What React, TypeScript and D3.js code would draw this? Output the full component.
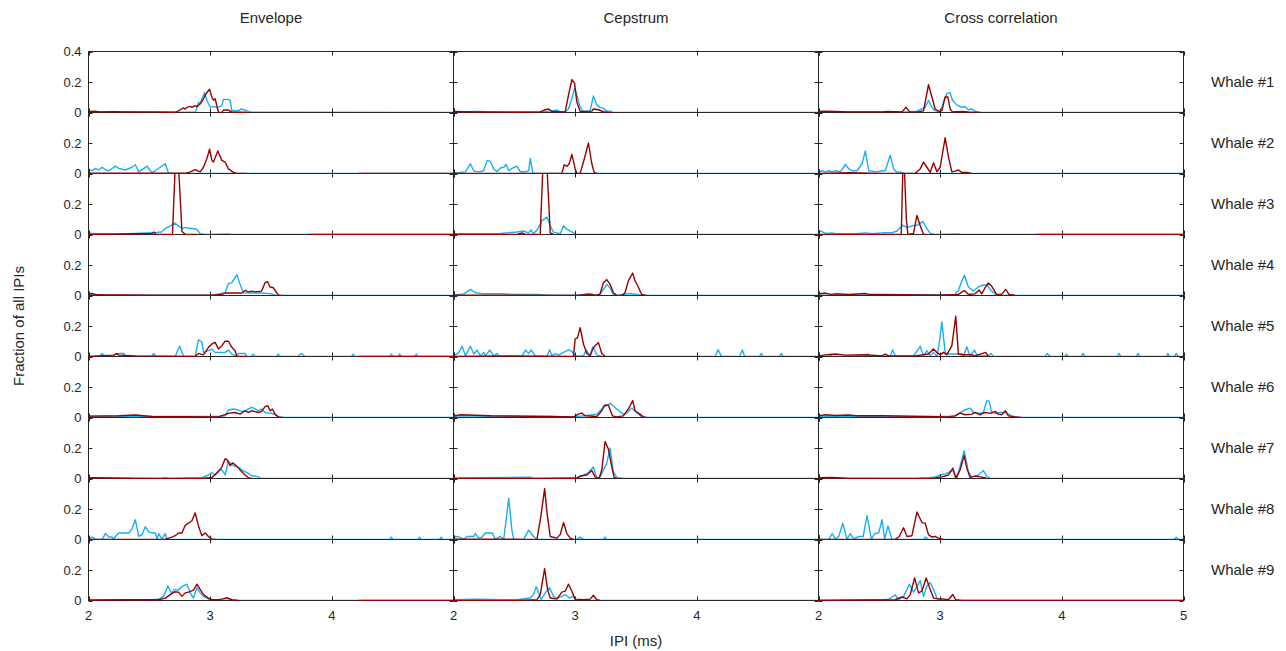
import React from 'react';
import * as d3 from 'd3';

type Pt = [number, number | null];

const methods = ['Envelope', 'Cepstrum', 'Cross correlation'];
const whales = ['Whale #1', 'Whale #2', 'Whale #3', 'Whale #4', 'Whale #5', 'Whale #6', 'Whale #7', 'Whale #8', 'Whale #9'];
const xTicks = [2, 3, 4, 5];
const yTicksTop = [0, 0.2, 0.4];
const yTicksRest = [0, 0.2];

// envelope method, one series per whale
const envelopeBlue: Pt[][] = [
  [[2,0.004],[2.2,0.003],[2.5,0.002],[2.88,0.004],[2.904,0.068],[2.918,0.057],[2.932,0.09],[2.954,0.13],[2.973,0.08],[3.0,0.034],[3.027,0.04],[3.055,0.034],[3.082,0.04],[3.096,0.045],[3.109,0.086],[3.15,0.086],[3.164,0.08],[3.178,0.011],[3.232,0.011],[3.254,0.023],[3.287,0.016],[3.314,0.007],[3.342,0.002],[5,0.001]],
  [[2,0.03],[2.03,0.018],[2.057,0.034],[2.085,0.023],[2.112,0.041],[2.139,0.025],[2.167,0.018],[2.221,0.048],[2.249,0.034],[2.303,0.023],[2.358,0.041],[2.385,0.057],[2.413,0.011],[2.44,0.025],[2.481,0.048],[2.508,0.018],[2.522,0.007],[2.549,0.018],[2.59,0.041],[2.631,0.064],[2.658,0.001],[5,0.001]],
  [[2,0.011],[2.03,0.007],[2.085,0.005],[2.2,0.002],[2.385,0.007],[2.522,0.011],[2.6,0.016],[2.631,0.039],[2.672,0.057],[2.708,0.075],[2.74,0.057],[2.768,0.039],[2.795,0.045],[2.85,0.039],[2.891,0.034],[2.918,0.005],[2.959,0.001],[3.15,0.004],[3.178,0.001],[5,0.001]],
  [[2,0.007],[2.25,0.002],[3.014,0.002],[3.068,0.011],[3.123,0.018],[3.15,0.078],[3.178,0.084],[3.219,0.136],[3.246,0.073],[3.273,0.018],[3.314,0.016],[3.423,0.016],[3.505,0.011],[3.546,0.001],[5,0.001]],
  [[2,0.001],[2.09,0.001],[2.112,0.02],[2.135,0.001],[2.2,0.001],[2.221,0.016],[2.262,0.02],[2.29,0.02],[2.303,0.001],[2.52,0.001],[2.536,0.02],[2.549,0.001],[2.713,0.001],[2.749,0.067],[2.781,0.001],[2.877,0.001],[2.904,0.11],[2.932,0.093],[2.945,0.027],[2.986,0.038],[3.014,0.049],[3.041,0.027],[3.123,0.027],[3.15,0.042],[3.178,0.016],[3.219,0.001],[3.232,0.02],[3.287,0.02],[3.3,0.001],[3.34,0.001],[3.355,0.016],[3.369,0.001],[3.545,0.001],[3.56,0.016],[3.574,0.001],[3.724,0.001],[3.751,0.02],[3.779,0.001],[4.161,0.001],[4.175,0.016],[4.188,0.001],[4.475,0.001],[4.489,0.016],[4.503,0.001],[4.544,0.001],[4.557,0.016],[4.571,0.001],[4.68,0.001],[4.694,0.016],[4.708,0.001],[5,0.001]],
  [[2,0.007],[2.932,0.007],[3.068,0.007],[3.123,0.011],[3.15,0.049],[3.191,0.056],[3.232,0.049],[3.26,0.04],[3.287,0.044],[3.314,0.056],[3.342,0.067],[3.369,0.056],[3.396,0.044],[3.423,0.056],[3.451,0.033],[3.505,0.027],[3.533,0.018],[3.56,0.004],[3.615,0.001],[5,0.001]],
  [[2,0.005],[2.6,0.001],[2.631,0.005],[2.66,0.001],[2.932,0.005],[2.986,0.023],[3.014,0.039],[3.041,0.023],[3.068,0.052],[3.096,0.057],[3.123,0.023],[3.15,0.114],[3.178,0.091],[3.205,0.08],[3.232,0.075],[3.26,0.057],[3.287,0.045],[3.314,0.034],[3.342,0.016],[3.369,0.016],[3.396,0.011],[3.41,0.001],[5,0.001]],
  [[2,0.002],[2.03,0.016],[2.057,0.001],[2.112,0.001],[2.139,0.039],[2.167,0.016],[2.194,0.016],[2.208,0.001],[2.221,0.02],[2.249,0.043],[2.331,0.043],[2.358,0.07],[2.385,0.13],[2.413,0.02],[2.44,0.032],[2.467,0.084],[2.495,0.048],[2.522,0.043],[2.549,0.043],[2.563,0.002],[2.577,0.039],[2.604,0.002],[2.631,0.039],[2.645,0.001],[4.475,0.001],[4.489,0.016],[4.503,0.001],[4.707,0.001],[4.721,0.016],[4.735,0.001],[4.885,0.001],[4.899,0.016],[4.913,0.001],[5,0.001]],
  [[2,0.005],[2.522,0.005],[2.577,0.009],[2.617,0.027],[2.653,0.095],[2.68,0.05],[2.708,0.073],[2.735,0.068],[2.768,0.091],[2.809,0.107],[2.836,0.05],[2.863,0.016],[2.891,0.084],[2.918,0.05],[2.945,0.027],[2.973,0.016],[3.0,0.001],[5,0.001]],
];

const envelopeRed: Pt[][] = [
  [[2,0.006],[2.05,0.008],[2.1,0.004],[2.2,0.006],[2.3,0.003],[2.5,0.004],[2.72,0.002],[2.754,0.018],[2.781,0.03],[2.795,0.022],[2.809,0.034],[2.836,0.04],[2.85,0.034],[2.877,0.045],[2.891,0.038],[2.918,0.057],[2.945,0.09],[2.967,0.125],[2.995,0.152],[3.014,0.1],[3.027,0.08],[3.041,0.09],[3.055,0.045],[3.068,0.001],[3.096,0.001],[3.109,0.016],[3.15,0.016],[3.178,0.002],[3.3,0.002]],
  [[2,0.002],[2.8,0.002],[2.836,0.011],[2.877,0.025],[2.918,0.011],[2.945,0.041],[2.973,0.098],[2.995,0.159],[3.014,0.086],[3.027,0.075],[3.063,0.148],[3.096,0.086],[3.123,0.075],[3.15,0.03],[3.191,0.007],[3.219,0.001],[3.3,0.001],[3.35,null],[4.22,0.001],[5,0.001]],
  [[2,0.001],[2.522,0.007],[2.536,0.016],[2.555,0.001],[2.69,0.001],[2.713,0.45],[2.74,0.45],[2.768,0.02],[2.795,0.001],[2.9,0.001],[2.95,null],[3.81,0.001],[5,0.001]],
  [[2,0.011],[2.03,0.013],[2.057,0.007],[2.1,0.005],[2.5,0.002],[3.014,0.002],[3.096,0.007],[3.123,0.016],[3.26,0.016],[3.287,0.033],[3.314,0.024],[3.342,0.029],[3.369,0.024],[3.423,0.029],[3.451,0.084],[3.473,0.09],[3.492,0.056],[3.519,0.051],[3.546,0.018],[3.566,0.001],[3.6,0.001]],
  [[2,0.001],[2.208,0.009],[2.235,0.02],[2.249,0.009],[2.385,0.004],[2.877,0.001],[2.904,0.02],[2.945,0.011],[2.986,0.06],[3.014,0.082],[3.041,0.093],[3.068,0.049],[3.096,0.071],[3.123,0.1],[3.15,0.1],[3.178,0.06],[3.205,0.038],[3.219,0.001],[3.3,0.001],[3.35,null],[4.216,0.001],[5,0.001]],
  [[2,0.009],[2.249,0.011],[2.385,0.016],[2.522,0.007],[3.068,0.004],[3.15,0.027],[3.205,0.033],[3.246,0.022],[3.287,0.044],[3.314,0.033],[3.342,0.044],[3.396,0.033],[3.423,0.04],[3.451,0.071],[3.473,0.078],[3.492,0.044],[3.511,0.056],[3.533,0.022],[3.56,0.004],[3.587,0.001]],
  [[2,0.005],[2.385,0.001],[2.932,0.001],[3.014,0.007],[3.068,0.045],[3.096,0.075],[3.123,0.13],[3.137,0.125],[3.164,0.084],[3.183,0.102],[3.205,0.091],[3.232,0.068],[3.26,0.045],[3.287,0.023],[3.314,0.005],[3.342,0.001]],
  [[2,0.001],[2.631,0.002],[2.686,0.016],[2.713,0.025],[2.74,0.043],[2.768,0.043],[2.795,0.093],[2.822,0.107],[2.85,0.123],[2.877,0.175],[2.904,0.089],[2.932,0.025],[2.959,0.043],[2.986,0.02],[3.014,0.001],[3.05,0.001]],
  [[2,0.002],[2.331,0.005],[2.577,0.005],[2.631,0.016],[2.672,0.039],[2.708,0.057],[2.74,0.055],[2.768,0.027],[2.795,0.05],[2.822,0.055],[2.863,0.068],[2.891,0.107],[2.918,0.073],[2.945,0.039],[2.986,0.016],[3.014,0.005],[3.068,0.005],[3.096,0.009],[3.137,0.018],[3.178,0.005],[3.232,0.001],[3.3,null],[4.22,0.001],[5,0.001]],
];

// cepstrum method
const cepstrumBlue: Pt[][] = [
  [[2,0.004],[2.194,0.007],[2.385,0.004],[2.74,0.004],[2.795,0.009],[2.85,0.016],[2.877,0.004],[2.918,0.004],[2.945,0.023],[2.973,0.091],[2.995,0.16],[3.014,0.114],[3.041,0.034],[3.068,0.007],[3.123,0.011],[3.15,0.109],[3.178,0.05],[3.205,0.034],[3.232,0.027],[3.26,0.011],[3.287,0.009],[3.314,0.001],[5,0.001]],
  [[2,0.005],[2.057,0.007],[2.098,0.011],[2.139,0.064],[2.167,0.016],[2.208,0.011],[2.249,0.018],[2.276,0.086],[2.303,0.08],[2.331,0.03],[2.358,0.011],[2.385,0.036],[2.413,0.041],[2.432,0.059],[2.454,0.018],[2.481,0.034],[2.522,0.048],[2.549,0.011],[2.59,0.011],[2.617,0.018],[2.631,0.098],[2.653,0.001],[5,0.001]],
  [[2,0.005],[2.249,0.005],[2.385,0.007],[2.522,0.016],[2.577,0.023],[2.617,0.011],[2.637,0.03],[2.658,0.005],[2.691,0.034],[2.727,0.091],[2.768,0.114],[2.795,0.057],[2.822,0.016],[2.877,0.005],[2.904,0.057],[2.932,0.034],[2.959,0.023],[2.986,0.011],[3.014,0.001],[5,0.001]],
  [[2,0.004],[2.085,0.011],[2.139,0.04],[2.18,0.018],[2.249,0.011],[2.385,0.011],[2.522,0.007],[2.686,0.007],[2.795,0.002],[3.014,0.002],[3.068,0.007],[3.123,0.013],[3.164,0.002],[3.205,0.007],[3.26,0.073],[3.287,0.051],[3.314,0.007],[3.342,0.001],[3.396,0.007],[3.451,0.013],[3.505,0.007],[3.546,0.001],[5,0.001]],
  [[2,0.001],[2.044,0.027],[2.071,0.067],[2.098,0.004],[2.139,0.067],[2.167,0.016],[2.194,0.042],[2.221,0.004],[2.249,0.027],[2.262,0.004],[2.298,0.042],[2.331,0.004],[2.358,0.02],[2.372,0.001],[2.563,0.001],[2.59,0.042],[2.617,0.02],[2.639,0.044],[2.672,0.004],[2.768,0.001],[2.79,0.044],[2.809,0.004],[2.836,0.02],[2.863,0.009],[2.904,0.027],[2.945,0.044],[2.973,0.033],[3.0,0.004],[3.068,0.004],[3.09,0.042],[3.123,0.009],[3.145,0.064],[3.178,0.011],[3.219,0.001],[4.15,0.001],[4.175,0.044],[4.202,0.001],[4.352,0.001],[4.374,0.042],[4.393,0.001],[4.515,0.001],[4.53,0.02],[4.544,0.001],[4.68,0.001],[4.694,0.02],[4.708,0.001],[5,0.001]],
  [[2,0.009],[2.112,0.011],[2.385,0.007],[2.795,0.007],[2.986,0.004],[3.068,0.011],[3.178,0.022],[3.232,0.067],[3.287,0.093],[3.342,0.056],[3.396,0.022],[3.423,0.027],[3.464,0.062],[3.505,0.033],[3.546,0.004],[3.587,0.001],[5,0.001]],
  [[2,0.002],[2.139,0.005],[2.631,0.009],[2.658,0.001],[3.014,0.007],[3.055,0.016],[3.109,0.039],[3.15,0.075],[3.178,0.001],[3.205,0.011],[3.26,0.102],[3.287,0.198],[3.314,0.045],[3.342,0.007],[3.396,0.001],[5,0.001]],
  [[2,0.016],[2.03,0.02],[2.085,0.002],[2.112,0.02],[2.167,0.02],[2.18,0.039],[2.208,0.009],[2.235,0.016],[2.262,0.043],[2.317,0.043],[2.344,0.002],[2.385,0.02],[2.413,0.002],[2.454,0.27],[2.481,0.055],[2.495,0.001],[2.577,0.001],[2.617,0.061],[2.658,0.02],[2.686,0.002],[3.014,0.001],[3.041,0.016],[3.068,0.001],[3.232,0.001],[3.246,0.016],[3.26,0.001],[5,0.001]],
  [[2,0.005],[2.194,0.009],[2.385,0.005],[2.522,0.005],[2.631,0.016],[2.658,0.039],[2.68,0.091],[2.7,0.05],[2.719,0.005],[2.754,0.05],[2.79,0.084],[2.822,0.027],[2.85,0.016],[2.891,0.027],[2.918,0.039],[2.954,0.016],[2.981,0.027],[3.008,0.001],[5,0.001]],
];

const cepstrumRed: Pt[][] = [
  [[2,0.007],[2.2,0.003],[2.522,0.002],[2.713,0.004],[2.754,0.018],[2.781,0.023],[2.809,0.007],[2.918,0.004],[2.945,0.114],[2.973,0.216],[2.995,0.193],[3.014,0.068],[3.041,0.007],[3.137,0.009],[3.15,0.023],[3.191,0.018],[3.232,0.005],[3.287,0.001],[3.3,0.001]],
  [[2,0.001],[2.85,0.001],[2.891,0.002],[2.91,0.057],[2.932,0.048],[2.951,0.064],[2.973,0.125],[3.0,0.03],[3.014,0.001],[3.041,0.001],[3.068,0.075],[3.109,0.2],[3.137,0.064],[3.156,0.007],[3.178,0.001]],
  [[2,0.001],[2.522,0.001],[2.563,0.011],[2.59,0.001],[2.713,0.001],[2.735,0.45],[2.768,0.45],[2.795,0.011],[2.822,0.001]],
  [[2,0.002],[3.014,0.001],[3.096,0.007],[3.178,0.002],[3.205,0.011],[3.232,0.084],[3.26,0.104],[3.287,0.073],[3.314,0.018],[3.342,0.001],[3.383,0.001],[3.41,0.018],[3.437,0.096],[3.473,0.147],[3.492,0.096],[3.519,0.056],[3.546,0.007],[3.587,0.001]],
  [[2,0.001],[2.44,0.004],[2.986,0.001],[3.0,0.116],[3.019,0.122],[3.041,0.189],[3.068,0.082],[3.096,0.02],[3.123,0.001],[3.145,0.049],[3.164,0.071],[3.191,0.091],[3.219,0.02],[3.246,0.001]],
  [[2,0.009],[2.057,0.018],[2.112,0.016],[2.303,0.011],[2.795,0.007],[2.986,0.004],[3.027,0.022],[3.055,0.029],[3.082,0.011],[3.178,0.007],[3.219,0.044],[3.24,0.08],[3.273,0.08],[3.306,0.011],[3.342,0.004],[3.396,0.011],[3.437,0.056],[3.473,0.111],[3.492,0.044],[3.533,0.022],[3.56,0.004],[3.587,0.001]],
  [[2,0.001],[3.014,0.001],[3.041,0.016],[3.096,0.023],[3.137,0.052],[3.164,0.011],[3.197,0.001],[3.219,0.057],[3.246,0.243],[3.273,0.193],[3.3,0.08],[3.32,0.007],[3.342,0.001]],
  [[2,0.002],[2.6,0.001],[2.686,0.001],[2.719,0.157],[2.749,0.334],[2.768,0.18],[2.795,0.02],[2.85,0.009],[2.877,0.032],[2.904,0.111],[2.932,0.039],[2.959,0.009],[2.986,0.001]],
  [[2,0.001],[2.522,0.001],[2.686,0.005],[2.713,0.039],[2.749,0.209],[2.773,0.073],[2.795,0.016],[2.85,0.009],[2.891,0.055],[2.918,0.061],[2.945,0.107],[2.973,0.061],[3.0,0.009],[3.068,0.005],[3.123,0.009],[3.15,0.034],[3.178,0.005],[3.205,0.001]],
];

// cross correlation method
const crossBlue: Pt[][] = [
  [[2,0.004],[2.249,0.004],[2.795,0.004],[2.85,0.023],[2.877,0.034],[2.904,0.08],[2.932,0.034],[2.959,0.011],[3.0,0.004],[3.027,0.068],[3.055,0.125],[3.082,0.13],[3.101,0.08],[3.137,0.05],[3.178,0.034],[3.205,0.039],[3.232,0.018],[3.26,0.023],[3.287,0.009],[3.342,0.001],[5,0.001]],
  [[2,0.011],[2.03,0.018],[2.057,0.011],[2.085,0.018],[2.112,0.011],[2.139,0.018],[2.18,0.011],[2.221,0.059],[2.249,0.03],[2.276,0.018],[2.317,0.018],[2.358,0.064],[2.385,0.148],[2.413,0.018],[2.481,0.011],[2.522,0.018],[2.549,0.018],[2.59,0.12],[2.617,0.03],[2.645,0.007],[2.672,0.011],[2.713,0.001],[5,0.001]],
  [[2,0.011],[2.016,0.023],[2.057,0.007],[2.112,0.011],[2.139,0.005],[2.303,0.005],[2.385,0.011],[2.44,0.005],[2.522,0.011],[2.604,0.011],[2.645,0.023],[2.691,0.061],[2.727,0.045],[2.768,0.057],[2.809,0.061],[2.858,0.084],[2.891,0.039],[2.918,0.007],[2.959,0.001],[3.15,0.004],[3.178,0.001],[5,0.001]],
  [[2,0.002],[2.249,0.002],[3.123,0.007],[3.15,0.033],[3.178,0.096],[3.2,0.133],[3.232,0.056],[3.273,0.029],[3.314,0.056],[3.355,0.069],[3.383,0.069],[3.423,0.029],[3.464,0.001],[5,0.001]],
  [[2,0.001],[2.085,0.001],[2.098,0.016],[2.112,0.001],[2.39,0.001],[2.407,0.016],[2.426,0.001],[2.59,0.004],[2.609,0.044],[2.631,0.001],[2.781,0.004],[2.836,0.067],[2.863,0.004],[2.891,0.038],[2.918,0.004],[2.945,0.027],[2.973,0.001],[2.992,0.082],[3.014,0.227],[3.041,0.027],[3.068,0.016],[3.15,0.016],[3.178,0.02],[3.191,0.001],[3.219,0.064],[3.246,0.004],[3.281,0.042],[3.306,0.004],[3.396,0.004],[3.418,0.02],[3.438,0.001],[3.861,0.001],[3.88,0.02],[3.902,0.001],[4.025,0.001],[4.038,0.016],[4.052,0.001],[4.161,0.001],[4.175,0.02],[4.188,0.001],[4.456,0.001],[4.47,0.02],[4.484,0.001],[4.612,0.001],[4.626,0.02],[4.639,0.001],[4.858,0.001],[4.872,0.02],[4.885,0.001],[4.926,0.001],[4.94,0.02],[4.954,0.001],[5,0.001]],
  [[2,0.007],[2.522,0.007],[3.068,0.007],[3.123,0.011],[3.156,0.027],[3.2,0.049],[3.246,0.062],[3.273,0.033],[3.314,0.027],[3.355,0.033],[3.383,0.111],[3.402,0.107],[3.423,0.033],[3.451,0.027],[3.492,0.033],[3.533,0.033],[3.587,0.011],[3.642,0.001],[5,0.001]],
  [[2,0.002],[2.795,0.001],[2.904,0.005],[2.959,0.011],[3.0,0.023],[3.041,0.03],[3.082,0.045],[3.109,0.052],[3.137,0.001],[3.164,0.08],[3.197,0.182],[3.232,0.045],[3.26,0.011],[3.287,0.016],[3.314,0.023],[3.355,0.052],[3.383,0.016],[3.41,0.001],[5,0.001]],
  [[2,0.001],[2.085,0.001],[2.112,0.039],[2.14,0.001],[2.167,0.02],[2.199,0.107],[2.235,0.002],[2.262,0.039],[2.29,0.002],[2.331,0.02],[2.367,0.02],[2.399,0.157],[2.434,0.002],[2.462,0.039],[2.495,0.043],[2.522,0.13],[2.544,0.002],[2.571,0.089],[2.604,0.001],[2.863,0.001],[2.877,0.016],[2.904,0.001],[4.926,0.001],[4.94,0.016],[4.954,0.001],[5,0.001]],
  [[2,0.002],[2.522,0.005],[2.577,0.009],[2.631,0.036],[2.658,0.005],[2.7,0.027],[2.746,0.107],[2.781,0.055],[2.809,0.091],[2.836,0.13],[2.863,0.027],[2.891,0.095],[2.918,0.118],[2.945,0.073],[2.973,0.016],[3.014,0.001],[5,0.001]],
];

const crossRed: Pt[][] = [
  [[2,0.007],[2.057,0.009],[2.139,0.007],[2.249,0.004],[2.522,0.004],[2.563,0.007],[2.686,0.004],[2.721,0.034],[2.749,0.004],[2.822,0.004],[2.863,0.011],[2.904,0.182],[2.932,0.102],[2.959,0.023],[2.992,0.007],[3.014,0.011],[3.041,0.102],[3.063,0.102],[3.082,0.023],[3.101,0.004],[3.178,0.007],[3.232,0.004],[3.3,0.002]],
  [[2,0.001],[2.249,0.005],[2.522,0.001],[2.795,0.001],[2.836,0.03],[2.863,0.075],[2.891,0.041],[2.918,0.007],[2.945,0.07],[2.973,0.011],[3.0,0.041],[3.041,0.234],[3.068,0.109],[3.096,0.011],[3.123,0.016],[3.15,0.023],[3.178,0.007],[3.219,0.007],[3.26,0.001]],
  [[2,0.001],[2.68,0.001],[2.694,0.45],[2.705,0.45],[2.722,0.1],[2.735,0.001],[2.781,0.007],[2.809,0.125],[2.836,0.057],[2.863,0.001],[2.891,0.001],[2.95,null],[3.79,0.001],[5,0.001]],
  [[2,0.011],[2.057,0.016],[2.098,0.007],[2.139,0.011],[2.249,0.007],[2.385,0.013],[2.413,0.007],[2.522,0.007],[3.014,0.002],[3.15,0.007],[3.2,0.033],[3.232,0.007],[3.287,0.011],[3.32,0.036],[3.342,0.011],[3.369,0.051],[3.396,0.082],[3.423,0.062],[3.464,0.007],[3.505,0.007],[3.538,0.04],[3.566,0.007],[3.615,0.002]],
  [[2,0.004],[2.057,0.011],[2.139,0.016],[2.221,0.009],[2.385,0.011],[2.522,0.004],[2.549,0.016],[2.577,0.004],[2.795,0.004],[2.904,0.016],[2.945,0.049],[2.973,0.027],[3.0,0.011],[3.027,0.027],[3.055,0.011],[3.096,0.071],[3.128,0.264],[3.15,0.016],[3.178,0.011],[3.26,0.011],[3.287,0.004],[3.374,0.027],[3.396,0.001]],
  [[2,0.011],[2.057,0.018],[2.139,0.013],[2.249,0.016],[2.331,0.011],[2.522,0.011],[3.068,0.004],[3.123,0.011],[3.164,0.029],[3.205,0.018],[3.26,0.022],[3.287,0.033],[3.328,0.018],[3.369,0.033],[3.41,0.027],[3.451,0.04],[3.478,0.022],[3.505,0.018],[3.538,0.044],[3.56,0.011],[3.615,0.004],[3.669,0.001]],
  [[2,0.005],[2.112,0.007],[2.249,0.001],[2.932,0.001],[3.014,0.011],[3.068,0.023],[3.104,0.068],[3.128,0.001],[3.164,0.057],[3.197,0.152],[3.219,0.068],[3.246,0.007],[3.287,0.016],[3.328,0.011],[3.355,0.007],[3.383,0.001]],
  [[2,0.001],[2.631,0.001],[2.664,0.02],[2.699,0.077],[2.727,0.02],[2.768,0.025],[2.809,0.18],[2.85,0.111],[2.877,0.107],[2.904,0.032],[2.932,0.016],[2.959,0.02],[2.986,0.009],[3.027,0.001]],
  [[2,0.001],[2.631,0.005],[2.686,0.023],[2.727,0.011],[2.754,0.039],[2.79,0.148],[2.822,0.05],[2.85,0.061],[2.885,0.148],[2.918,0.073],[2.945,0.016],[2.986,0.009],[3.014,0.011],[3.068,0.005],[3.104,0.039],[3.128,0.005],[3.178,0.001],[5,0.001]],
];

const blueByMethod = [envelopeBlue, cepstrumBlue, crossBlue];
const redByMethod = [envelopeRed, cepstrumRed, crossRed];

const BLUE = '#17b0f7';
const RED = '#990000';
const INK = '#262626';
const FONT = '"Liberation Sans", Arial, Helvetica, sans-serif';

const plotLeft = 88.5;
const colW = 365;
const plotTop = 51.5;
const rowH = 61;
const tickLen = 4;

export default function App() {
  const yFor = (r: number) => d3.scaleLinear().domain([0, 0.4]).range([plotTop + (r + 1) * rowH, plotTop + r * rowH]);
  const xFor = (c: number) => d3.scaleLinear().domain([2, 5]).range([plotLeft + c * colW, plotLeft + (c + 1) * colW]);

  // three passes: blue lines, then frames/ticks, then red lines on top
  const clips: JSX.Element[] = [];
  const blues: JSX.Element[] = [];
  const frames: JSX.Element[] = [];
  const reds: JSX.Element[] = [];

  methods.forEach((m, c) => {
    const x = xFor(c);
    whales.forEach((w, r) => {
      const y = yFor(r);
      const line = d3.line<Pt>()
        .defined(d => d[1] !== null)
        .x(d => x(d[0]))
        .y(d => y(d[1] as number));
      const id = `clip-${c}-${r}`;
      const [xa, xb] = x.range();
      const [yb, ya] = y.range();
      const yt = r === 0 ? yTicksTop : yTicksRest;

      clips.push(
        <clipPath key={id} id={id}>
          <rect x={xa} y={ya} width={xb - xa} height={yb - ya + 1} />
        </clipPath>
      );
      blues.push(
        <path key={id} clipPath={`url(#${id})`} d={line(blueByMethod[c][r]) || ''} fill="none" stroke={BLUE} strokeWidth={1.4} strokeLinejoin="round" />
      );
      reds.push(
        <path key={id} clipPath={`url(#${id})`} d={line(redByMethod[c][r]) || ''} fill="none" stroke={RED} strokeWidth={1.4} strokeLinejoin="round" />
      );
      frames.push(
        <g key={id}>
          <rect x={xa} y={ya} width={xb - xa} height={yb - ya} fill="none" stroke={INK} strokeWidth={1} />
          {xTicks.map(t => (
            <g key={`xt${t}`}>
              <line x1={Math.round(x(t)) + 0.5} x2={Math.round(x(t)) + 0.5} y1={yb} y2={yb - tickLen} stroke={INK} />
              <line x1={Math.round(x(t)) + 0.5} x2={Math.round(x(t)) + 0.5} y1={ya} y2={ya + tickLen} stroke={INK} />
            </g>
          ))}
          {yt.map(t => (
            <g key={`yt${t}`}>
              <line x1={xa} x2={xa + tickLen} y1={Math.round(y(t)) + 0.5} y2={Math.round(y(t)) + 0.5} stroke={INK} />
              <line x1={xb} x2={xb - tickLen} y1={Math.round(y(t)) + 0.5} y2={Math.round(y(t)) + 0.5} stroke={INK} />
            </g>
          ))}
          {c === 0 && yt.map(t => (
            <text key={`yl${t}`} x={xa - 7} y={y(t)} dy="0.36em" textAnchor="end" fontSize={13} fill={INK}>{t === 0 ? '0' : t.toFixed(1)}</text>
          ))}
          {r === whales.length - 1 && xTicks.filter(t => c === methods.length - 1 || t < 5).map(t => (
            <text key={`xl${t}`} x={x(t)} y={620} textAnchor="middle" fontSize={13} fill={INK}>{t}</text>
          ))}
        </g>
      );
    });
  });

  return (
    <svg width={1286} height={651} style={{ position: 'absolute', left: 0, top: 0, background: '#fff' }} fontFamily={FONT}>
      <rect width={1286} height={651} fill="#fff" />
      <defs>{clips}</defs>
      {methods.map((m, c) => (
        <text key={m} x={plotLeft + (c + 0.5) * colW} y={23} textAnchor="middle" fontSize={15} fill={INK}>{m}</text>
      ))}
      {whales.map((w, r) => (
        <text key={w} x={1211} y={plotTop + (r + 0.5) * rowH + 5} fontSize={15} fill={INK}>{w}</text>
      ))}
      <g>{blues}</g>
      <g>{frames}</g>
      <g>{reds}</g>
      <text x={plotLeft + 1.5 * colW} y={646} textAnchor="middle" fontSize={15} fill={INK}>IPI (ms)</text>
      <text transform={`translate(24,${plotTop + 4.5 * rowH}) rotate(-90)`} textAnchor="middle" fontSize={15} fill={INK}>Fraction of all IPIs</text>
    </svg>
  );
}
